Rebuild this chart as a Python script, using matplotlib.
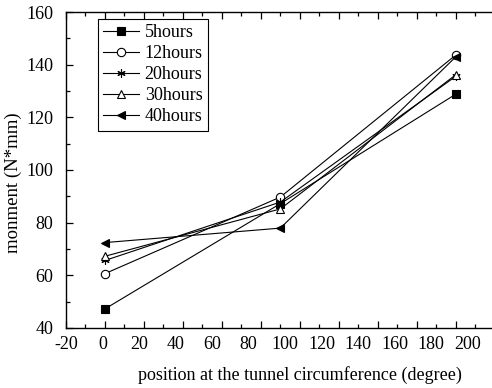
import matplotlib
matplotlib.use("Agg")
import matplotlib.pyplot as plt
from matplotlib.ticker import MultipleLocator, FixedLocator

# positions on the tunnel circumference (degree)
positions = [0, 90, 180]

# moment values for each time step
m_5h = [47.2, 87.2, 128.8]
m_12h = [60.6, 89.7, 143.7]
m_20h = [65.6, 87.8, 135.6]
m_30h = [67.2, 85.2, 136.2]
m_40h = [72.4, 77.9, 143.0]

labels = ["5hours", "12hours", "20hours", "30hours", "40hours"]
series = [m_5h, m_12h, m_20h, m_30h, m_40h]
markers = ["s", "o", (6, 2, 0), "^", "<"]
fills = ["black", "white", "black", "white", "black"]
x_ticklabels = list(range(-20, 201, 20))

plt.rcParams["font.family"] = ["Liberation Serif", "DejaVu Serif"]
plt.rcParams["font.size"] = 13
plt.rcParams["axes.unicode_minus"] = False

fig = plt.figure(figsize=(4.92, 3.88), dpi=100)
ax = fig.add_axes([0.134, 0.155, 0.951, 0.814])

for vals, lab, mk, fc in zip(series, labels, markers, fills):
    ax.plot(positions, vals, color="black", lw=0.8, marker=mk, markersize=6,
            markerfacecolor=fc, markeredgecolor="black", markeredgewidth=0.8,
            label=lab)

ax.set_xlim(-20, 220)
ax.set_ylim(40, 160)
ax.yaxis.set_major_locator(MultipleLocator(20))
ax.yaxis.set_minor_locator(MultipleLocator(10))
ax.xaxis.set_major_locator(MultipleLocator(20))
ax.xaxis.set_minor_locator(MultipleLocator(10))
ax.tick_params(which="both", direction="in", top=True, right=False, width=0.9)
ax.tick_params(which="major", length=5)
ax.tick_params(which="minor", length=3)
ax.tick_params(axis="x", labelbottom=False)
ax.tick_params(axis="y", pad=9)
for sp in ax.spines.values():
    sp.set_linewidth(1.0)

# tick labels sit a little tighter than the tick marks in the original figure
k = 1.95 / 1.8227
sec = ax.secondary_xaxis("bottom",
                         functions=(lambda x: (x + 20) * k - 20.27,
                                    lambda v: (v + 20.27) / k - 20))
sec.xaxis.set_major_locator(FixedLocator(x_ticklabels))
sec.tick_params(length=0, pad=6)
sec.spines["bottom"].set_visible(False)
sec.set_xlabel("position at the tunnel circumference (degree)", labelpad=9)

ax.set_ylabel("monment (N*mm)", labelpad=3, fontsize=13.5, y=0.46)

leg = ax.legend(loc="upper left", bbox_to_anchor=(0.068, 0.978), borderaxespad=0,
                fancybox=False, edgecolor="black", framealpha=1, handlelength=2.0,
                handletextpad=0.3, labelspacing=0.22, borderpad=0.3)
leg.get_frame().set_linewidth(0.8)

fig.savefig("out.png", dpi=100)
